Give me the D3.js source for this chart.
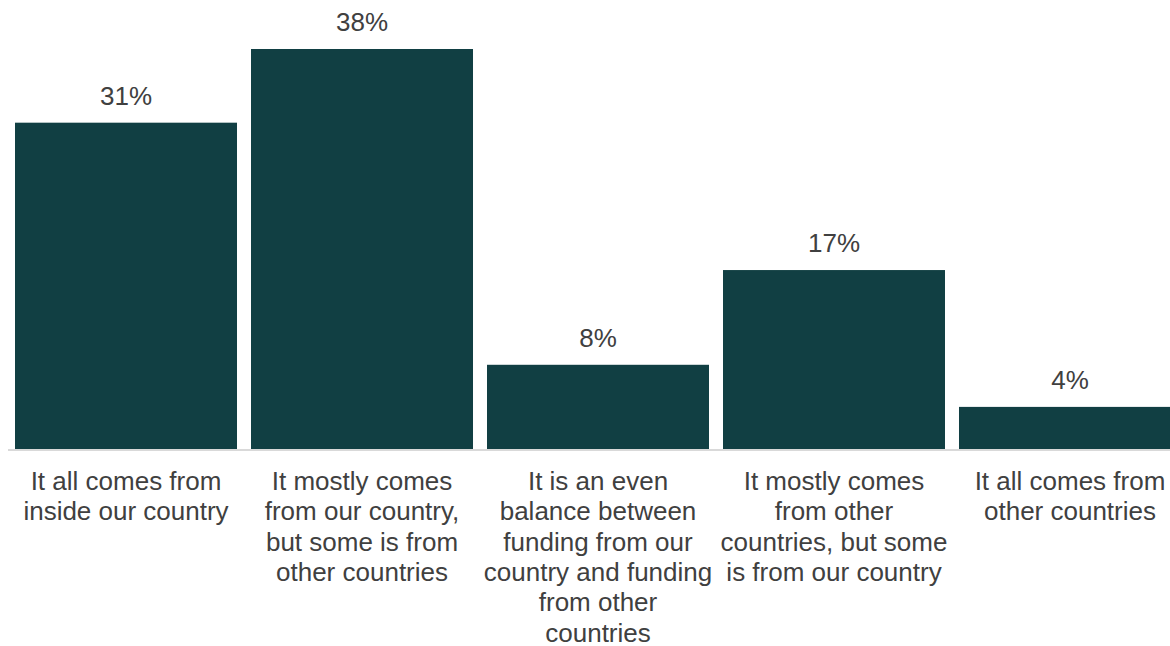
<!DOCTYPE html>
<html>
<head>
<meta charset="utf-8">
<script src="https://cdn.jsdelivr.net/npm/d3@7"></script>
<style>
  html, body { margin: 0; padding: 0; background: #ffffff; }
  svg { display: block; }
  text { font-family: "Liberation Sans", Arial, sans-serif; fill: #404040; }
</style>
</head>
<body>
<svg id="chart" width="1170" height="646"></svg>
<script>
// Where does the funding come from? Share of respondents per answer.
const categories = [
  "It all comes from\ninside our country",
  "It mostly comes\nfrom our country,\nbut some is from\nother countries",
  "It is an even\nbalance between\nfunding from our\ncountry and funding\nfrom other\ncountries",
  "It mostly comes\nfrom other\ncountries, but some\nis from our country",
  "It all comes from\nother countries"
];
const values = [31, 38, 8, 17, 4];
const valueLabels = ["31%", "38%", "8%", "17%", "4%"];

const svg = d3.select("#chart");
const baseY = 449;
const fontSize = "26px";
const lineStep = 30.3;

const x = d3.scaleBand()
  .domain(categories)
  .range([8, 1188])
  .paddingInner(14 / 236)
  .paddingOuter(0.0297);

const y = d3.scaleLinear()
  .domain([0, 38])
  .range([baseY, 49]);

// bars
svg.append("g")
  .selectAll("rect")
  .data(values)
  .join("rect")
  .attr("x", (d, i) => x(categories[i]))
  .attr("y", d => y(d))
  .attr("width", x.bandwidth())
  .attr("height", d => y(0) - y(d))
  .attr("fill", "#113f43");

// baseline
svg.append("line")
  .attr("x1", 8).attr("x2", 1170)
  .attr("y1", baseY + 1).attr("y2", baseY + 1)
  .attr("stroke", "#d9d9d9")
  .attr("stroke-width", 2);

// value labels
svg.append("g")
  .selectAll("text")
  .data(values)
  .join("text")
  .attr("x", (d, i) => x(categories[i]) + x.bandwidth() / 2)
  .attr("y", d => y(d) - 18)
  .attr("text-anchor", "middle")
  .style("font-size", fontSize)
  .text((d, i) => valueLabels[i]);

// category labels, one tspan per line
const catLabels = svg.append("g")
  .selectAll("text")
  .data(categories)
  .join("text")
  .attr("text-anchor", "middle")
  .style("font-size", fontSize)
  .attr("transform", d => `translate(${x(d) + x.bandwidth() / 2},490)`);

catLabels.selectAll("tspan")
  .data(d => d.split("\n"))
  .join("tspan")
  .attr("x", 0)
  .attr("y", (d, i) => i * lineStep)
  .text(d => d);
</script>
</body>
</html>
